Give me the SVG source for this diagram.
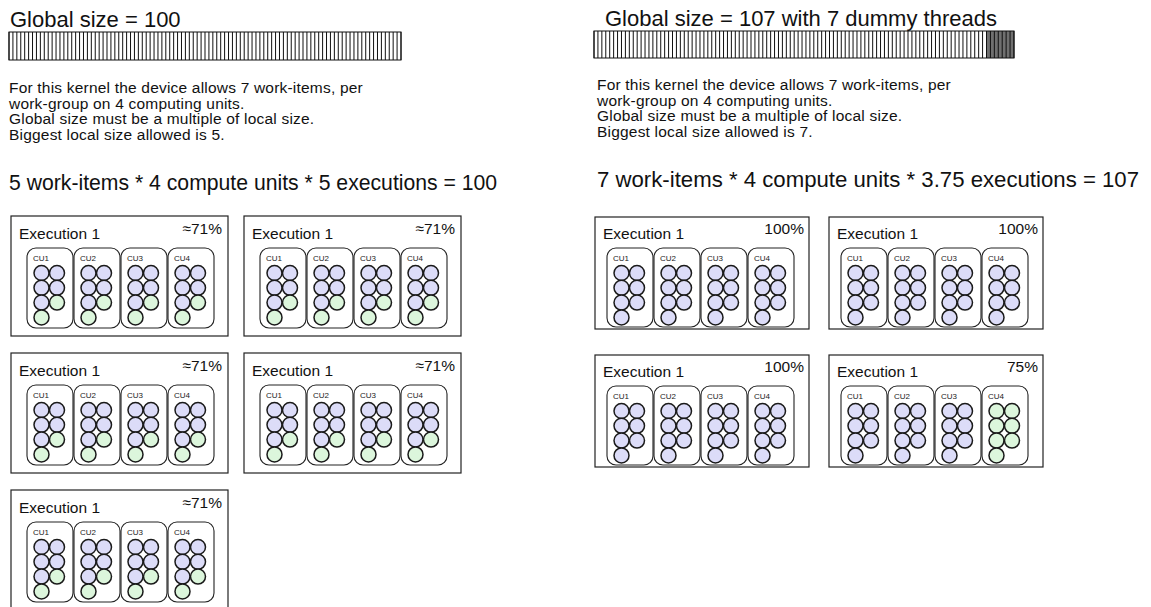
<svg xmlns="http://www.w3.org/2000/svg" xmlns:xlink="http://www.w3.org/1999/xlink" width="1151" height="607" viewBox="0 0 1151 607">
<style>
text{font-family:"Liberation Sans",Arial,Helvetica,sans-serif;fill:#111}
.h{font-size:22px}
.p{font-size:15.5px;letter-spacing:0.2px}
.eqL{font-size:21.2px}
.eqR{font-size:22.2px}
.ex{font-size:15.5px}
.pc{font-size:15.5px;text-anchor:end}
.cu{font-size:8px;fill:#222}
.box{fill:#fff;stroke:#222;stroke-width:1.2}
.cub{fill:#fff;stroke:#222;stroke-width:1.1}
.b{fill:#dcdcf8;stroke:#1a1a1a;stroke-width:1.5}
.g{fill:#dcf6dc;stroke:#1a1a1a;stroke-width:1.5}
.bar{fill:none;stroke:#111;stroke-width:1}
</style>
<defs>
<g id="c71">
<circle class="b" cx="14.5" cy="25" r="7.5"/><circle class="b" cx="30" cy="25" r="7.5"/>
<circle class="b" cx="14.5" cy="39.8" r="7.5"/><circle class="b" cx="30" cy="39.8" r="7.5"/>
<circle class="b" cx="14.5" cy="54.6" r="7.5"/><circle class="g" cx="30" cy="54.6" r="7.5"/>
<circle class="g" cx="14.5" cy="69.4" r="7.5"/>
</g>
<g id="c100">
<circle class="b" cx="14.5" cy="25" r="7.5"/><circle class="b" cx="30" cy="25" r="7.5"/>
<circle class="b" cx="14.5" cy="39.8" r="7.5"/><circle class="b" cx="30" cy="39.8" r="7.5"/>
<circle class="b" cx="14.5" cy="54.6" r="7.5"/><circle class="b" cx="30" cy="54.6" r="7.5"/>
<circle class="b" cx="14.5" cy="69.4" r="7.5"/>
</g>
<g id="c0">
<circle class="g" cx="14.5" cy="25" r="7.5"/><circle class="g" cx="30" cy="25" r="7.5"/>
<circle class="g" cx="14.5" cy="39.8" r="7.5"/><circle class="g" cx="30" cy="39.8" r="7.5"/>
<circle class="g" cx="14.5" cy="54.6" r="7.5"/><circle class="g" cx="30" cy="54.6" r="7.5"/>
<circle class="g" cx="14.5" cy="69.4" r="7.5"/>
</g>
<g id="cuL71"><rect class="cub" width="46" height="80" rx="9"/><use href="#c71"/></g>
<g id="cuR100"><rect class="cub" width="46" height="79" rx="9"/><use href="#c100"/></g>
<g id="cuR0"><rect class="cub" width="46" height="79" rx="9"/><use href="#c0"/></g>
<g id="boxL">
<rect class="box" width="217" height="120"/>
<use href="#cuL71" x="16" y="32"/><use href="#cuL71" x="63" y="32"/><use href="#cuL71" x="110" y="32"/><use href="#cuL71" x="157" y="32"/>
</g>
<g id="boxR100">
<rect class="box" width="214" height="112"/>
<use href="#cuR100" x="12" y="31"/><use href="#cuR100" x="59" y="31"/><use href="#cuR100" x="106" y="31"/><use href="#cuR100" x="153" y="31"/>
</g>
<g id="boxR75">
<rect class="box" width="214" height="112"/>
<use href="#cuR100" x="12" y="31"/><use href="#cuR100" x="59" y="31"/><use href="#cuR100" x="106" y="31"/><use href="#cuR0" x="153" y="31"/>
</g>
</defs>
<rect width="1151" height="607" fill="#fff"/>

<g id="left-header">
<text class="h" x="10" y="27">Global size = 100</text>
<line x1="8.5" y1="46" x2="401.5" y2="46" stroke="#111" stroke-width="28" stroke-dasharray="1 2.92"/>
<rect class="bar" x="9" y="32" width="392" height="28"/>
<text class="p" x="9" y="93">For this kernel the device allows 7 work-items, per</text>
<text class="p" x="9" y="108.7">work-group on 4 computing units.</text>
<text class="p" x="9" y="124.4">Global size must be a multiple of local size.</text>
<text class="p" x="9" y="140">Biggest local size allowed is 5.</text>
<text class="eqL" x="9" y="190">5 work-items * 4 compute units * 5 executions = 100</text>
</g>

<g id="right-header">
<text class="h" x="605" y="26">Global size = 107 with 7 dummy threads</text>
<rect x="986.5" y="31" width="27.5" height="27" fill="#707070"/>
<line x1="593.5" y1="44.5" x2="1014.5" y2="44.5" stroke="#111" stroke-width="27" stroke-dasharray="1 2.925"/>
<rect class="bar" x="594" y="31" width="420" height="27"/>
<text class="p" x="597" y="90">For this kernel the device allows 7 work-items, per</text>
<text class="p" x="597" y="105.5">work-group on 4 computing units.</text>
<text class="p" x="597" y="121">Global size must be a multiple of local size.</text>
<text class="p" x="597" y="136.5">Biggest local size allowed is 7.</text>
<text class="eqR" x="597" y="187">7 work-items * 4 compute units * 3.75 executions = 107</text>
</g>

<g id="exec-left-1" transform="translate(11,216)">
<use href="#boxL"/>
<text class="ex" x="8" y="23">Execution 1</text><text class="pc" x="211" y="18">≈71%</text>
<text class="cu" x="22" y="45">CU1</text><text class="cu" x="69" y="45">CU2</text><text class="cu" x="116" y="45">CU3</text><text class="cu" x="163" y="45">CU4</text>
</g>
<g id="exec-left-2" transform="translate(244,216)">
<use href="#boxL"/>
<text class="ex" x="8" y="23">Execution 1</text><text class="pc" x="211" y="18">≈71%</text>
<text class="cu" x="22" y="45">CU1</text><text class="cu" x="69" y="45">CU2</text><text class="cu" x="116" y="45">CU3</text><text class="cu" x="163" y="45">CU4</text>
</g>
<g id="exec-left-3" transform="translate(11,353)">
<use href="#boxL"/>
<text class="ex" x="8" y="23">Execution 1</text><text class="pc" x="211" y="18">≈71%</text>
<text class="cu" x="22" y="45">CU1</text><text class="cu" x="69" y="45">CU2</text><text class="cu" x="116" y="45">CU3</text><text class="cu" x="163" y="45">CU4</text>
</g>
<g id="exec-left-4" transform="translate(244,353)">
<use href="#boxL"/>
<text class="ex" x="8" y="23">Execution 1</text><text class="pc" x="211" y="18">≈71%</text>
<text class="cu" x="22" y="45">CU1</text><text class="cu" x="69" y="45">CU2</text><text class="cu" x="116" y="45">CU3</text><text class="cu" x="163" y="45">CU4</text>
</g>
<g id="exec-left-5" transform="translate(11,490)">
<use href="#boxL"/>
<text class="ex" x="8" y="23">Execution 1</text><text class="pc" x="211" y="18">≈71%</text>
<text class="cu" x="22" y="45">CU1</text><text class="cu" x="69" y="45">CU2</text><text class="cu" x="116" y="45">CU3</text><text class="cu" x="163" y="45">CU4</text>
</g>

<g id="exec-right-1" transform="translate(595,217)">
<use href="#boxR100"/>
<text class="ex" x="8" y="22">Execution 1</text><text class="pc" x="209" y="17">100%</text>
<text class="cu" x="18" y="44">CU1</text><text class="cu" x="65" y="44">CU2</text><text class="cu" x="112" y="44">CU3</text><text class="cu" x="159" y="44">CU4</text>
</g>
<g id="exec-right-2" transform="translate(829,217)">
<use href="#boxR100"/>
<text class="ex" x="8" y="22">Execution 1</text><text class="pc" x="209" y="17">100%</text>
<text class="cu" x="18" y="44">CU1</text><text class="cu" x="65" y="44">CU2</text><text class="cu" x="112" y="44">CU3</text><text class="cu" x="159" y="44">CU4</text>
</g>
<g id="exec-right-3" transform="translate(595,355)">
<use href="#boxR100"/>
<text class="ex" x="8" y="22">Execution 1</text><text class="pc" x="209" y="17">100%</text>
<text class="cu" x="18" y="44">CU1</text><text class="cu" x="65" y="44">CU2</text><text class="cu" x="112" y="44">CU3</text><text class="cu" x="159" y="44">CU4</text>
</g>
<g id="exec-right-4" transform="translate(829,355)">
<use href="#boxR75"/>
<text class="ex" x="8" y="22">Execution 1</text><text class="pc" x="209" y="17">75%</text>
<text class="cu" x="18" y="44">CU1</text><text class="cu" x="65" y="44">CU2</text><text class="cu" x="112" y="44">CU3</text><text class="cu" x="159" y="44">CU4</text>
</g>

<g id="connectors"/>
</svg>
